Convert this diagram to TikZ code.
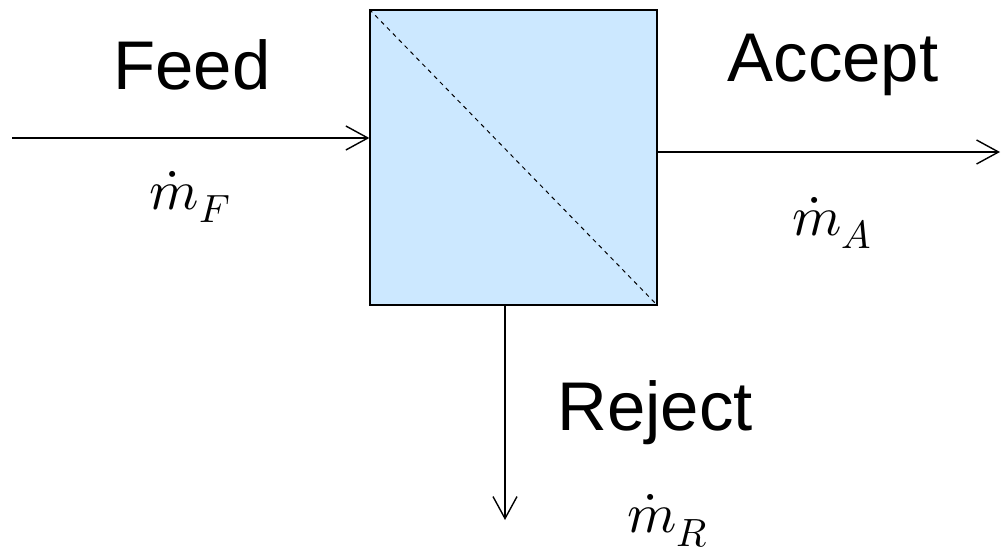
\documentclass[tikz,border=0pt]{standalone}
\usepackage{fontspec}
\setmainfont{Liberation Sans}
\usepackage{unicode-math}
\usetikzlibrary{positioning,arrows.meta}
\definecolor{unitblue}{RGB}{204,232,255}
\tikzset{
  stream/.style={-{Straight Barb[length=0.55cm,width=0.6cm,line width=1pt]}, line width=0.9pt},
  streamname/.style={font=\fontsize{49}{56}\selectfont},
  flowlabel/.style={font=\fontsize{40}{46}\selectfont}
}
\begin{document}
\begin{tikzpicture}[x=0.025cm, y=0.025cm]
  % Frame
  \useasboundingbox (0,0) rectangle (1003,555);
  % Separation unit
  \node[draw, line width=0.9pt, fill=unitblue, minimum width=7.175cm,
        minimum height=7.375cm, inner sep=0pt] (unit) at (513.5,397.5) {};
  \draw[dashed, line width=0.7pt] (unit.north west) -- (unit.south east);
  % Stream ends
  \coordinate (feedin) at (12,417);
  \coordinate (acceptout) at (1000,403);
  \coordinate (rejectout) at (505,35);
  % Streams
  \draw[stream] (feedin) -- (feedin -| unit.west);
  \draw[stream] (unit.east |- acceptout) -- (acceptout);
  \draw[stream] (rejectout |- unit.south) -- (rejectout);
  % Labels
  \node[streamname] (feed) at (192,490) {Feed};
  \node[streamname] (accept) at (833,490) {Accept};
  \node[streamname] (reject) at (655,142) {Reject};
  \node[flowlabel, inner sep=1pt] (mf) at (190,358) {$\dot{m}_F$};
  \node[flowlabel, inner sep=1pt] (ma) at (832,332) {$\dot{m}_A$};
  \node[flowlabel, inner sep=1pt] (mr) at (668,34) {$\dot{m}_R$};
\end{tikzpicture}
\end{document}
